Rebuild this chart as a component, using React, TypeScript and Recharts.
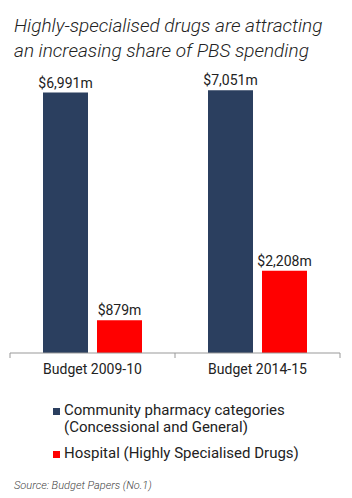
import { BarChart, Bar, XAxis, YAxis, LabelList } from "recharts";

const categories = ["Budget 2009-10", "Budget 2014-15"];
const community = [6991, 7051];
const hospital = [879, 2208];

const seriesNames = {
  community: "Community pharmacy categories\n(Concessional and General)",
  hospital: "Hospital (Highly Specialised Drugs)",
};

const NAVY = "#2b3f5f";
const RED = "#ff0000";
const FONT = "Roboto, 'Open Sans', sans-serif";

const data = categories.map((c, i) => ({ name: c, community: community[i], hospital: hospital[i] }));

const W = 352;
const MARGIN = { top: 55, right: 12, left: 10, bottom: 115 };
const BAND = (W - MARGIN.left - MARGIN.right) / categories.length;

const fmt = (v: number) => `$${v.toLocaleString("en-US")}m`;

// category label plus tick marks at the band edges
function CatTick(props: any) {
  const { x, y, payload, index } = props;
  return (
    <g>
      <line x1={x - BAND / 2} x2={x - BAND / 2} y1={y - 8} y2={y - 3} stroke="#999" />
      {index === categories.length - 1 && (
        <line x1={x + BAND / 2} x2={x + BAND / 2} y1={y - 8} y2={y - 3} stroke="#999" />
      )}
      <text x={x} y={y + 13} textAnchor="middle" fill="#222" fontSize={14} fontFamily={FONT}>
        {payload.value}
      </text>
    </g>
  );
}

function LegendBox() {
  const items = [
    { color: NAVY, label: seriesNames.community },
    { color: RED, label: seriesNames.hospital },
  ];
  return (
    <div style={{ fontFamily: FONT, fontSize: 15, color: "#222", lineHeight: "17px" }}>
      {items.map((it) => (
        <div key={it.color} style={{ display: "flex", marginBottom: 9 }}>
          <span style={{ width: 7, height: 7, background: it.color, marginTop: 6, marginRight: 4, flex: "none" }} />
          <span style={{ whiteSpace: "pre" }}>{it.label}</span>
        </div>
      ))}
    </div>
  );
}

export default function App() {
  return (
    <div style={{ position: "absolute", left: 0, top: 0, width: W, height: 498, background: "#fff", fontFamily: FONT }}>
      <div
        style={{
          position: "absolute",
          left: 14,
          top: 13,
          fontSize: 19,
          fontStyle: "italic",
          fontWeight: 300,
          lineHeight: "25px",
          color: "#222",
          whiteSpace: "nowrap",
        }}
      >
        Highly-specialised drugs are attracting
        <br />
        an increasing share of PBS spending
      </div>
      <BarChart
        width={W}
        height={498}
        data={data}
        margin={MARGIN}
        barCategoryGap="20%"
        barGap={9}
        style={{ position: "absolute", left: 0, top: 0 }}
      >
        <XAxis
          dataKey="name"
          axisLine={{ stroke: "#999" }}
          tickLine={false}
          tick={<CatTick />}
          interval={0}
          height={30}
        />
        <YAxis hide domain={[0, 8000]} />
        <Bar dataKey="community" fill={NAVY} isAnimationActive={false}>
          <LabelList dataKey="community" position="top" formatter={fmt as any} fill="#222" fontSize={14} fontFamily={FONT} />
        </Bar>
        <Bar dataKey="hospital" fill={RED} isAnimationActive={false}>
          <LabelList dataKey="hospital" position="top" formatter={fmt as any} fill="#222" fontSize={14} fontFamily={FONT} />
        </Bar>
      </BarChart>
      <div style={{ position: "absolute", top: 402, left: 53, width: 300 }}>
        <LegendBox />
      </div>
      <div
        style={{
          position: "absolute",
          left: 14,
          top: 479,
          fontSize: 11,
          fontStyle: "italic",
          fontWeight: 300,
          color: "#444",
        }}
      >
        Source: Budget Papers (No.1)
      </div>
    </div>
  );
}
